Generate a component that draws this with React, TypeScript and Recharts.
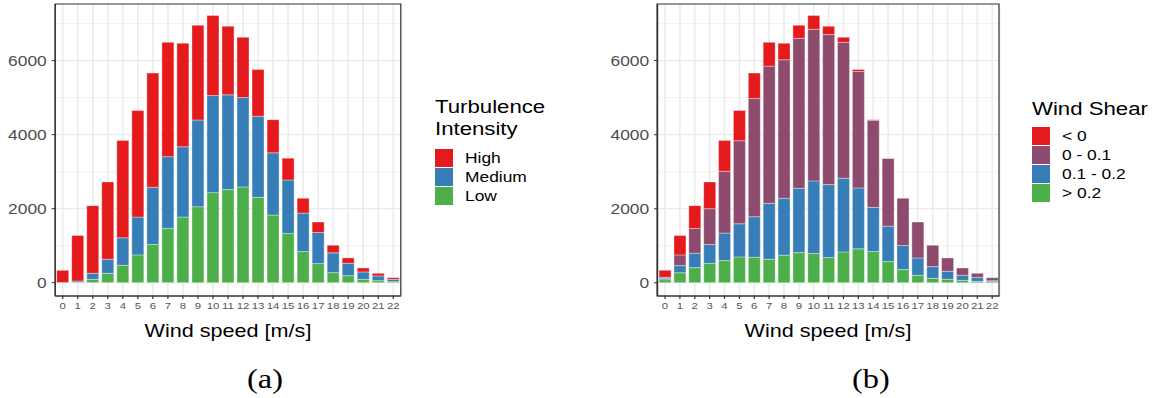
import { BarChart, Bar, XAxis, YAxis, CartesianGrid } from "recharts";

// wind speed bins
const speeds = ["0", "1", "2", "3", "4", "5", "6", "7", "8", "9", "10", "11", "12", "13", "14", "15", "16", "17", "18", "19", "20", "21", "22"];

// (a) turbulence intensity, stacked bottom -> top
const tiLow = [5, 10, 90, 253, 470, 751, 1031, 1465, 1772, 2053, 2433, 2515, 2587, 2306, 1827, 1330, 841, 516, 271, 190, 90, 54, 27];
const tiMedium = [0, 35, 163, 380, 742, 1021, 1547, 1940, 1900, 2343, 2623, 2560, 2415, 2190, 1682, 1446, 1039, 841, 535, 334, 200, 128, 63];
const tiHigh = [329, 1230, 1828, 2089, 2633, 2878, 3085, 3089, 2795, 2560, 2162, 1854, 1628, 1265, 896, 589, 400, 280, 207, 146, 108, 71, 46];

// (b) wind shear, stacked bottom -> top
const wsAbove02 = [81, 271, 407, 524, 597, 697, 687, 633, 742, 814, 787, 678, 832, 914, 841, 570, 353, 199, 118, 90, 63, 36, 27];
const ws01to02 = [37, 190, 389, 507, 742, 895, 1095, 1511, 1538, 1737, 1963, 1972, 1990, 1646, 1194, 958, 651, 471, 316, 218, 136, 109, 27];
const ws0to01 = [27, 290, 669, 968, 1673, 2243, 3193, 3708, 3744, 4052, 4097, 4053, 3672, 3147, 2352, 1827, 1276, 967, 579, 362, 199, 108, 82];
const wsBelow0 = [189, 524, 616, 723, 833, 815, 688, 642, 443, 353, 371, 226, 136, 54, 18, 10, 0, 0, 0, 0, 0, 0, 0];

const yTicks = [0, 2000, 4000, 6000];
const yMinor = [1000, 3000, 5000, 7000];

const tiLabels = ["High", "Medium", "Low"];
const tiColors = ["#E41A1C", "#377EB8", "#4DAF4A"];
const wsLabels = ["< 0", "0 - 0.1", "0.1 - 0.2", "> 0.2"];
const wsColors = ["#E41A1C", "#8E4B6D", "#377EB8", "#4DAF4A"];

const dataA = speeds.map((s, i) => ({ speed: s, low: tiLow[i], medium: tiMedium[i], high: tiHigh[i] }));
const dataB = speeds.map((s, i) => ({ speed: s, a: wsAbove02[i], b: ws01to02[i], c: ws0to01[i], d: wsBelow0[i] }));

// the figure is horizontally stretched in the original, so everything is laid out
// in a narrower box and scaled by SX
const SX = 1.2;
const W = 1154 / SX;

const barStroke = "rgba(255,255,255,0.55)";

function Panel({ data, keys, colors, left, right }: { data: any[]; keys: string[]; colors: string[]; left: number; right: number }) {
  return (
    <div style={{ position: "absolute", left, top: 0 }}>
      <BarChart width={345} height={316} data={data} margin={{ top: 4, right, left: 0, bottom: 0 }} barCategoryGap="10%">
        <CartesianGrid horizontalValues={yMinor} vertical={false} stroke="#F0F0F0" strokeWidth={0.8} />
        <CartesianGrid horizontalValues={yTicks} stroke="#EBEBEB" strokeWidth={1.3} />
        <XAxis
          dataKey="speed"
          height={20}
          interval={0}
          tickSize={3}
          tickMargin={3}
          tick={{ fontSize: 9.5, fill: "#555" }}
          axisLine={{ stroke: "#333" }}
          tickLine={{ stroke: "#333" }}
        />
        <YAxis
          width={46}
          type="number"
          domain={[-360, 7530]}
          allowDataOverflow
          ticks={yTicks}
          tickSize={3}
          tickMargin={4}
          tick={{ fontSize: 14.5, fill: "#4D4D4D" }}
          axisLine={{ stroke: "#333" }}
          tickLine={{ stroke: "#333" }}
        />
        {keys.map((k, i) => (
          <Bar key={k} dataKey={k} stackId="s" fill={colors[i]} stroke={barStroke} strokeWidth={0.6} isAnimationActive={false} />
        ))}
      </BarChart>
    </div>
  );
}

export default function App() {
  return (
    <div
      style={{
        position: "absolute",
        left: 0,
        top: 0,
        width: W,
        height: 398,
        background: "#fff",
        transform: `scaleX(${SX})`,
        transformOrigin: "0 0",
        fontFamily: "'Liberation Sans', Arial, sans-serif",
      }}
    >
      <Panel data={dataA} keys={["low", "medium", "high"]} colors={["#4DAF4A", "#377EB8", "#E41A1C"]} left={0} right={11} />
      <Panel data={dataB} keys={["a", "b", "c", "d"]} colors={["#4DAF4A", "#377EB8", "#8E4B6D", "#E41A1C"]} left={501.5} right={14} />
      <svg width={W} height={398} style={{ position: "absolute", left: 0, top: 0, pointerEvents: "none" }}>
        <rect x={46} y={4} width={288} height={292} fill="none" stroke="#333" strokeWidth={1} />
        <rect x={547.5} y={4} width={285} height={292} fill="none" stroke="#333" strokeWidth={1} />

        <text x={190} y={337} fontSize={18} textAnchor="middle" fill="#000">Wind speed [m/s]</text>
        <text x={690} y={337} fontSize={18} textAnchor="middle" fill="#000">Wind speed [m/s]</text>

        <text x={220.8} y={388} fontSize={27} textAnchor="middle" fontFamily="'Liberation Serif', serif" fill="#000">(a)</text>
        <text x={725.8} y={388} fontSize={27} textAnchor="middle" fontFamily="'Liberation Serif', serif" fill="#000">(b)</text>

        <text x={362.5} y={113} fontSize={18.5} fill="#000">Turbulence</text>
        <text x={362.5} y={135} fontSize={18.5} fill="#000">Intensity</text>
        {tiLabels.map((l, i) => (
          <g key={l}>
            <rect x={362.5} y={149 + i * 19} width={15} height={18} fill={tiColors[i]} />
            <text x={387.5} y={163 + i * 19} fontSize={14.5} fill="#000">{l}</text>
          </g>
        ))}

        <text x={860} y={115} fontSize={18.5} fill="#000">Wind Shear</text>
        {wsLabels.map((l, i) => (
          <g key={l}>
            <rect x={860} y={127 + i * 19} width={15} height={18} fill={wsColors[i]} />
            <text x={885} y={141 + i * 19} fontSize={14.5} fill="#000">{l}</text>
          </g>
        ))}
      </svg>
    </div>
  );
}
